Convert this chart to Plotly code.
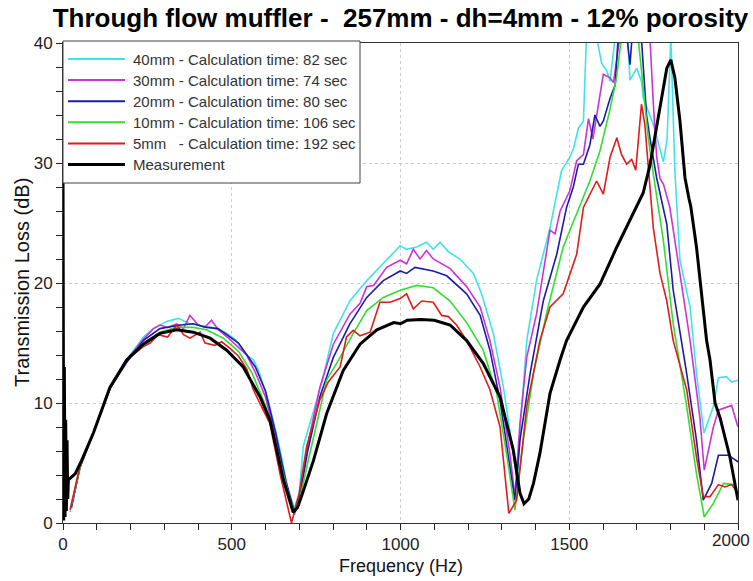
import plotly.graph_objects as go

# ---- data: transmission loss (dB) vs frequency (Hz) ----
f_40 = [21, 50, 90, 139, 189, 238, 268, 307, 342, 376, 400, 440, 480, 510, 539, 564, 579, 610, 640, 665, 685,
        700, 712, 742, 766, 801, 850, 900, 949, 999, 1018, 1048, 1077, 1097, 1117, 1142, 1176, 1216, 1240, 1275,
        1305, 1334, 1346, 1356, 1374, 1403, 1443, 1477, 1502, 1513, 1527, 1542, 1551, 1566, 1581, 1596, 1611,
        1621, 1636, 1655, 1670, 1680, 1700, 1714, 1719, 1749, 1779, 1790, 1801, 1813, 1828, 1858, 1877, 1899,
        1927, 1942, 1966, 1981, 2000]
tl_40 = [0.9, 4.7, 7.5, 11.2, 13.6, 15.5, 16.2, 16.8, 17.05, 16.6, 16.5, 16.3, 15.9, 15.3, 14.1, 13.6, 12.75, 10.0,
         6.5, 3.0, 1.2, 2.5, 6.4, 9.4, 11.6, 15.8, 18.5, 20.2, 21.6, 23.1, 22.8, 23.0, 23.4, 22.8, 23.4, 22.6,
         22.0, 20.8, 19.1, 15.8, 11.3, 5.8, 3.5, 8.3, 15.2, 20.2, 24.6, 29.35, 30.5, 31.25, 32.9, 33.5, 40.5, 44.0,
         40.5, 38.3, 37.7, 36.8, 40.5, 44.0, 42.0, 36.9, 37.9, 36.8, 35.45, 33.2, 30.1, 32.0, 40.5, 29.3, 21.9,
         18.0, 12.45, 7.5, 9.7, 12.1, 12.2, 11.75, 11.9]

f_30 = [25, 50, 90, 139, 189, 238, 268, 287, 310, 337, 357, 376, 401, 420, 440, 460, 490, 524, 544, 569, 600, 630,
        660, 685, 700, 725, 761, 801, 850, 880, 900, 920, 959, 999, 1018, 1038, 1058, 1077, 1097, 1147, 1196,
        1236, 1265, 1295, 1324, 1339, 1354, 1374, 1403, 1443, 1458, 1473, 1502, 1522, 1542, 1557, 1570, 1601,
        1621, 1631, 1650, 1670, 1700, 1739, 1749, 1759, 1769, 1779, 1798, 1828, 1858, 1887, 1900, 1927, 1942,
        1981, 2000]
tl_30 = [1.3, 4.6, 7.5, 11.3, 13.6, 15.3, 16.2, 16.5, 16.3, 16.6, 16.2, 17.3, 16.5, 16.3, 16.9, 16.1, 15.4, 14.55,
         14.0, 12.6, 10.5, 7.0, 3.5, 0.7, 1.8, 6.5, 11.3, 14.9, 17.4, 18.3, 19.7, 19.8, 21.3, 21.9, 21.6, 22.8,
         22.0, 22.7, 22.0, 21.2, 19.7, 18.0, 15.2, 11.3, 5.8, 2.2, 8.3, 13.8, 17.4, 24.4, 24.1, 26.0, 27.7, 30.2,
         30.7, 33.7, 32.0, 37.4, 37.1, 36.7, 40.5, 44.0, 44.0, 40.5, 35.0, 30.5, 28.7, 28.25, 26.3, 20.8, 15.2,
         8.8, 4.4, 8.0, 9.4, 9.8, 8.0]

f_20 = [25, 50, 90, 139, 189, 238, 287, 347, 386, 425, 460, 490, 520, 545, 570, 600, 630, 660, 685, 700, 725, 761,
        801, 850, 900, 949, 999, 1018, 1043, 1097, 1137, 1196, 1236, 1265, 1295, 1324, 1339, 1354, 1384, 1423,
        1463, 1492, 1512, 1527, 1542, 1561, 1576, 1591, 1601, 1621, 1636, 1645, 1665, 1680, 1690, 1700, 1714,
        1729, 1739, 1759, 1789, 1808, 1848, 1877, 1897, 1922, 1942, 1971, 2000]
tl_20 = [1.3, 4.6, 7.5, 11.2, 13.4, 15.2, 16.2, 16.5, 16.6, 16.3, 16.2, 15.6, 15.0, 14.0, 13.0, 11.0, 7.5, 3.5,
         1.0, 2.0, 6.0, 10.5, 13.8, 16.6, 18.8, 20.2, 21.0, 20.8, 21.3, 21.0, 20.6, 19.1, 17.3, 14.4, 10.2, 4.7,
         1.9, 6.9, 12.45, 18.5, 22.4, 26.3, 28.0, 29.9, 29.9, 31.5, 34.0, 33.05, 33.5, 35.4, 36.5, 40.5, 42.0,
         38.2, 42.0, 43.0, 40.3, 34.0, 32.1, 28.75, 24.9, 19.4, 12.45, 6.9, 1.9, 3.3, 5.65, 5.65, 5.1]

f_10 = [25, 50, 90, 139, 189, 238, 287, 337, 386, 425, 475, 520, 560, 600, 640, 670, 685, 700, 725, 761, 781, 821,
        860, 900, 949, 999, 1048, 1097, 1147, 1196, 1245, 1285, 1314, 1339, 1364, 1394, 1433, 1482, 1522, 1561,
        1591, 1621, 1640, 1655, 1670, 1690, 1704, 1719, 1734, 1749, 1779, 1808, 1848, 1877, 1900, 1927, 1957,
        1986, 2000]
tl_10 = [1.5, 4.6, 7.5, 11.3, 13.6, 15.0, 15.9, 16.3, 16.3, 16.1, 15.4, 14.3, 12.5, 9.8, 5.5, 2.2, 0.9, 1.8, 5.0,
         9.6, 11.9, 13.8, 15.8, 17.7, 18.8, 19.4, 19.8, 19.6, 18.5, 16.7, 14.4, 10.8, 5.8, 1.1, 6.9, 12.45, 17.5,
         23.0, 25.8, 28.5, 31.0, 34.5, 37.1, 40.5, 43.0, 43.0, 40.5, 36.5, 32.1, 29.1, 23.5, 16.6, 9.7, 4.1, 0.5,
         1.64, 3.3, 3.2, 2.2]

f_5 = [21, 50, 90, 139, 189, 238, 258, 282, 310, 337, 357, 376, 406, 421, 450, 470, 495, 520, 545, 564, 590, 613,
       643, 677, 700, 722, 761, 786, 821, 840, 860, 880, 910, 939, 969, 999, 1018, 1038, 1063, 1097, 1122, 1142,
       1166, 1196, 1236, 1265, 1295, 1321, 1344, 1374, 1413, 1443, 1482, 1522, 1542, 1581, 1601, 1621, 1641,
       1655, 1670, 1685, 1697, 1714, 1724, 1734, 1749, 1769, 1789, 1808, 1848, 1877, 1897, 1917, 1942, 1961,
       1981, 2000]
tl_5 = [1.1, 4.7, 7.5, 11.3, 13.6, 14.7, 15.0, 15.7, 15.5, 16.5, 15.7, 15.4, 15.9, 15.0, 14.8, 15.1, 14.55, 13.9,
        12.8, 11.1, 9.6, 8.3, 4.1, 0.0, 2.5, 6.4, 10.25, 11.75, 13.0, 15.5, 16.05, 15.6, 15.9, 18.4, 18.4, 18.7,
        19.1, 17.85, 18.5, 18.4, 17.3, 17.2, 16.5, 15.2, 13.0, 11.1, 8.0, 0.8, 1.9, 9.7, 15.2, 18.0, 19.1, 22.4,
        26.3, 28.5, 27.4, 30.5, 32.1, 30.7, 29.9, 30.3, 29.4, 34.9, 33.2, 29.6, 24.6, 20.8, 18.5, 15.2, 11.1, 5.5,
        2.2, 2.2, 3.2, 3.0, 3.2, 2.5]

f_meas = [0, 2, 4, 6, 8, 10, 12, 14, 16, 36, 55, 90, 139, 189, 238, 287, 337, 386, 436, 485, 534, 584, 613, 653,
          682, 695, 710, 742, 781, 830, 880, 930, 980, 1000, 1020, 1060, 1100, 1147, 1196, 1245, 1295, 1334, 1354,
          1366, 1380, 1394, 1413, 1443, 1473, 1492, 1542, 1591, 1641, 1690, 1719, 1739, 1755, 1769, 1789, 1801,
          1813, 1828, 1843, 1855, 1860, 1877, 1887, 1907, 1917, 1932, 1947, 1961, 1976, 2000]
tl_meas = [30.0, 0.2, 13.0, 0.5, 8.6, 1.0, 6.9, 2.0, 3.6, 4.1, 5.2, 7.5, 11.3, 13.6, 14.9, 15.8, 16.1, 15.9, 15.4,
           14.4, 13.0, 10.5, 8.6, 3.6, 0.9, 1.3, 2.5, 5.2, 9.1, 12.7, 14.9, 16.1, 16.7, 16.6, 16.9, 16.95, 16.9,
           16.5, 15.2, 13.3, 10.5, 6.1, 2.5, 1.6, 2.0, 3.3, 5.8, 10.8, 13.6, 15.2, 18.0, 19.9, 23.0, 25.8, 27.5,
           29.8, 32.5, 34.8, 37.9, 38.6, 37.1, 33.5, 28.75, 27.0, 26.4, 23.0, 20.2, 15.2, 13.6, 10.0, 8.75, 7.2,
           5.5, 1.9]

series_names = ["40mm - Calculation time: 82 sec",
                "30mm - Calculation time: 74 sec",
                "20mm - Calculation time: 80 sec",
                "10mm - Calculation time: 106 sec",
                "5mm\u00a0\u00a0\u00a0- Calculation time: 192 sec",
                "Measurement"]
series_colors = ["#3ee4ea", "#cc33d6", "#1c1ca6", "#33dd33", "#e01c1c", "#000000"]
series_widths = [1.6, 1.6, 1.6, 1.6, 1.6, 3.0]
series_f = [f_40, f_30, f_20, f_10, f_5, f_meas]
series_tl = [tl_40, tl_30, tl_20, tl_10, tl_5, tl_meas]

x_ticks = [0, 500, 1000, 1500, 2000]
y_ticks = [0, 10, 20, 30, 40]

W, H = 753, 581
ML, MR, MT, MB = 63, 15, 43, 58
PW, PH = W - ML - MR, H - MT - MB


def px(xp):
    return (xp - ML) / PW


def py(yp):
    return (H - MB - yp) / PH


fig = go.Figure()
for name, col, lw, fx, ty in zip(series_names, series_colors, series_widths, series_f, series_tl):
    fig.add_trace(go.Scatter(x=fx, y=ty, mode="lines", name=name,
                             line=dict(color=col, width=lw), showlegend=False))

tick_font = dict(family="Liberation Sans Narrow, Arial Narrow, Liberation Sans, sans-serif", size=17, color="#222")
axis_common = dict(showline=True, linecolor="#333", linewidth=1, mirror=True,
                   ticks="outside", ticklen=6, tickcolor="#222", tickfont=tick_font,
                   showgrid=True, gridcolor="#cccccc", griddash="dot", gridwidth=1, zeroline=False)

# the last x label sits at the figure edge, so it is written as an annotation kept inside the page
fig.update_xaxes(range=[0, 2000], tickvals=x_ticks[:-1], ticktext=[str(v) for v in x_ticks[:-1]],
                 minor=dict(tickvals=list(range(0, 2001, 100)), ticks="outside", ticklen=6,
                            tickcolor="#222", showgrid=False),
                 **axis_common)
fig.update_yaxes(range=[0, 40], tickvals=y_ticks, ticktext=[str(v) for v in y_ticks],
                 minor=dict(dtick=2, tick0=0, ticks="outside", ticklen=6, tickcolor="#222", showgrid=False),
                 **axis_common)

# legend box drawn on top of the curves
shapes = [dict(type="rect", xref="paper", yref="paper", x0=px(63), x1=px(360), y0=py(183), y1=py(41),
               fillcolor="white", line=dict(color="#404040", width=1), layer="above")]
annotations = [dict(text=str(x_ticks[-1]), xref="paper", yref="paper", x=px(752), y=-6 / PH,
                    xanchor="right", yanchor="top", showarrow=False, font=tick_font)]
for i, (name, col, lw) in enumerate(zip(series_names, series_colors, series_widths)):
    yrow = 59 + 21.1 * i
    shapes.append(dict(type="line", xref="paper", yref="paper", x0=px(68), x1=px(125), y0=py(yrow), y1=py(yrow),
                       line=dict(color=col, width=2 if lw < 2 else 3), layer="above"))
    annotations.append(dict(text=name, xref="paper", yref="paper", x=px(131), y=py(yrow),
                            xanchor="left", yanchor="middle", showarrow=False,
                            font=dict(family="Liberation Sans, Arial, sans-serif", size=15, color="#333")))

# axis titles
annotations.append(dict(text="Frequency (Hz)", xref="paper", yref="paper", x=0.5, y=py(566),
                        xanchor="center", yanchor="middle", showarrow=False,
                        font=dict(family="Liberation Sans, Arial, sans-serif", size=18, color="#111")))
annotations.append(dict(text="Transmission Loss (dB)", xref="paper", yref="paper", x=px(22), y=py(283),
                        xanchor="center", yanchor="middle", showarrow=False, textangle=-90,
                        font=dict(family="Liberation Sans, Arial, sans-serif", size=20, color="#111")))

fig.update_layout(
    width=W, height=H,
    margin=dict(l=ML, r=MR, t=MT, b=MB, pad=0),
    paper_bgcolor="white", plot_bgcolor="white",
    title=dict(text="<b>Through flow muffler -\u00a0\u00a0257mm - dh=4mm - 12% porosity</b>",
               x=0.5, xref="paper", y=1 - 18 / H, yref="container", yanchor="middle",
               font=dict(family="Liberation Sans, Arial, sans-serif", size=26, color="black")),
    shapes=shapes, annotations=annotations, showlegend=False,
)

fig.write_html("out.html")
